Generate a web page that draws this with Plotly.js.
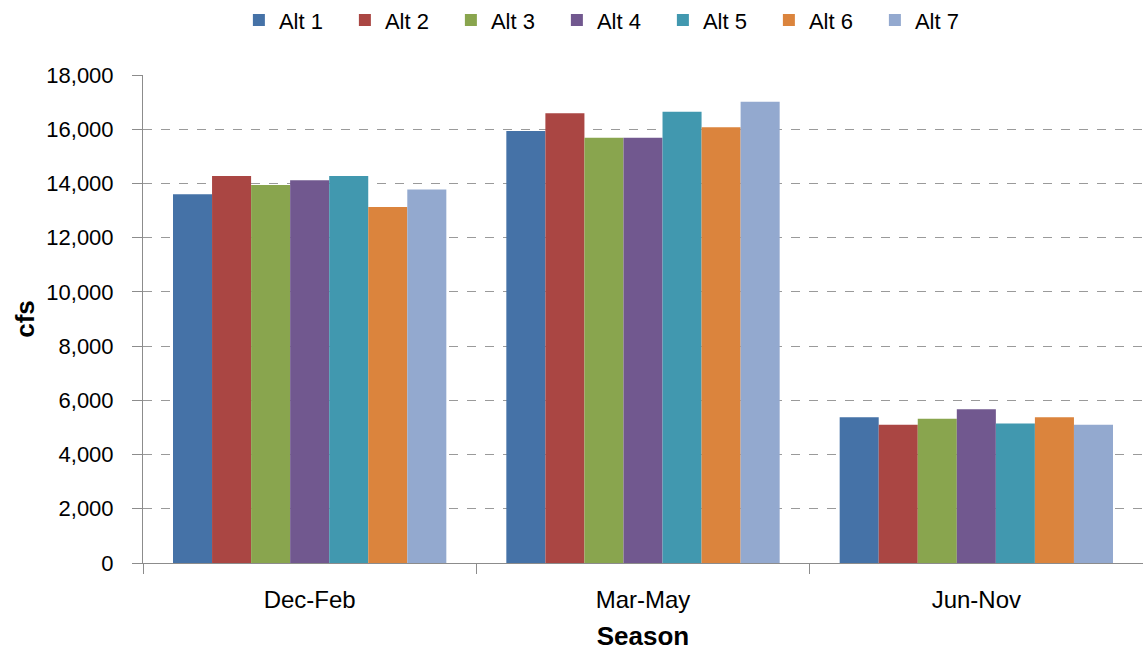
<!DOCTYPE html>
<html>
<head>
<meta charset="utf-8">
<script src="https://cdn.plot.ly/plotly-3.0.1.min.js"></script>
<style>html,body{margin:0;padding:0;background:#fff;}#chart{width:1143px;height:651px;}</style>
</head>
<body>
<div id="chart"></div>
<script>
const seasons = ["Dec-Feb", "Mar-May", "Jun-Nov"];
const seriesNames = ["Alt 1", "Alt 2", "Alt 3", "Alt 4", "Alt 5", "Alt 6", "Alt 7"];
const alt1 = [13600, 15930, 5380];
const alt2 = [14270, 16590, 5100];
const alt3 = [13940, 15690, 5320];
const alt4 = [14120, 15690, 5670];
const alt5 = [14270, 16640, 5150];
const alt6 = [13130, 16070, 5380];
const alt7 = [13780, 17010, 5100];
const yTickVals = [0, 2000, 4000, 6000, 8000, 10000, 12000, 14000, 16000, 18000];
const colors = ["#4572A7", "#AA4643", "#89A54E", "#71588F", "#4198AF", "#DB843D", "#93A9CF"];

const allValues = [alt1, alt2, alt3, alt4, alt5, alt6, alt7];
const traces = allValues.map((vals, i) => ({
  type: "bar",
  name: seriesNames[i],
  x: seasons,
  y: vals,
  marker: {color: colors[i], line: {width: 0}},
  hoverinfo: "x+y+name"
}));

const font = "Liberation Sans, Arial, sans-serif";
const layout = {
  width: 1143, height: 651,
  margin: {l: 143, r: 0, t: 75, b: 88, autoexpand: false},
  paper_bgcolor: "#ffffff",
  plot_bgcolor: "#ffffff",
  barmode: "group",
  bargap: 0.18,
  bargroupgap: 0,
  font: {family: font, size: 22, color: "#000"},
  showlegend: true,
  legend: {
    orientation: "h",
    xref: "container", yref: "container",
    x: 0.209, xanchor: "left",
    y: 0.969, yanchor: "middle",
    font: {family: font, size: 22, color: "#000"},
    entrywidth: 61, entrywidthmode: "pixels",
    itemwidth: 30,
    traceorder: "normal"
  },
  xaxis: {
    type: "category",
    showline: true, linecolor: "#8c8c8c", linewidth: 1,
    ticks: "outside", tickson: "boundaries", ticklen: 10, tickcolor: "#8c8c8c",
    ticklabelstandoff: 15,
    showgrid: false,
    tickfont: {family: font, size: 24, color: "#000"},
    title: {text: "<b>Season</b>", font: {family: font, size: 26, color: "#000"}, standoff: 16},
    zeroline: false,
    automargin: false
  },
  yaxis: {
    range: [0, 18000],
    tickvals: yTickVals,
    tickformat: ",d",
    showline: true, linecolor: "#8c8c8c", linewidth: 1,
    ticks: "outside", ticklen: 10, tickcolor: "#8c8c8c",
    ticklabelstandoff: 14,
    showgrid: true, gridcolor: "#9a9a9a", griddash: "dash", gridwidth: 1,
    zeroline: false,
    automargin: false,
    tickfont: {family: font, size: 22, color: "#000"},
    title: {text: "<b>cfs</b>", font: {family: font, size: 26, color: "#000"}, standoff: 4}
  }
};

Plotly.newPlot("chart", traces, layout, {displayModeBar: false, staticPlot: true});
</script>
</body>
</html>
